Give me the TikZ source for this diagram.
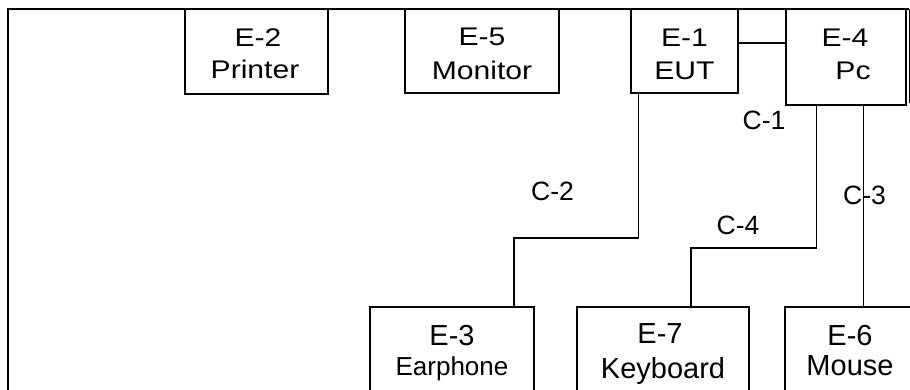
\documentclass[tikz,border=0pt]{standalone}
\usepackage{fontspec}
\setmainfont{Liberation Sans}
\newfontfamily\widefont{Liberation Sans}[FakeStretch=1.18]
\begin{document}
\begin{tikzpicture}[x=1pt,y=-1pt,
  box/.style={draw, line width=1.3pt, inner sep=0pt, rectangle},
  frame/.style={line width=1.5pt},
  wire/.style={line width=1.1pt},
  toptxt/.style={anchor=base, inner sep=0pt, font=\widefont\fontsize{25.5}{25.5}\selectfont},
  bottxt/.style={anchor=base, inner sep=0pt, font=\fontsize{29}{29}\selectfont},
  smalltxt/.style={anchor=base, inner sep=0pt, font=\fontsize{26}{26}\selectfont},
  lab/.style={inner sep=0pt, font=\fontsize{26.5}{26.5}\selectfont}]
\useasboundingbox (0,0) rectangle (910,390);
% outer frame
\coordinate (f1) at (8,400);
\coordinate (f2) at (8,9);
\coordinate (f3) at (909,9);
\coordinate (f4) at (909,103);
\draw[frame] (f1) -- (f2) -- (f3);
\draw[line width=1pt] (f3) -- (f4);
% boxes
\node[box, minimum width=143pt, minimum height=85pt] (e2) at (256.5,51.5) {};
\node[box, minimum width=154pt, minimum height=84pt] (e5) at (482,51) {};
\node[box, minimum width=107pt, minimum height=84pt] (e1) at (684.5,51) {};
\node[box, minimum width=120pt, minimum height=96pt] (e4) at (846,57) {};
\node[box, minimum width=164pt, minimum height=93pt] (e3) at (452,353.5) {};
\node[box, minimum width=172pt, minimum height=93pt] (e7) at (663,353.5) {};
\node[box, minimum width=150pt, minimum height=93pt] (e6) at (860,353.5) {};
% texts
\node[toptxt] (e2a) at (258,47) {E-2};
\node[toptxt] (e2b) at (255,79) {Printer};
\node[toptxt] (e5a) at (482,46) {E-5};
\node[toptxt] (e5b) at (482,80) {Monitor};
\node[toptxt] (e1a) at (684.5,47) {E-1};
\node[toptxt] (e1b) at (684.5,80) {EUT};
\node[toptxt] (e4a) at (845,47) {E-4};
\node[toptxt] (e4b) at (853,80) {Pc};
\node[bottxt] (e3a) at (452,345) {E-3};
\node[smalltxt] (e3b) at (452,375) {Earphone};
\node[bottxt] (e7a) at (660,343) {E-7};
\node[bottxt] (e7b) at (663,378) {Keyboard};
\node[bottxt] (e6a) at (850,345) {E-6};
\node[bottxt] (e6b) at (850,375) {Mouse};
% connectors
\draw[wire] ([yshift=8pt]e1.east) -- ([yshift=8pt]e1.east -| e4.west);
\coordinate (j2) at (514,238);
\draw[wire] ([xshift=8pt]e1.south west) |- (j2) -- (j2 |- e3.north);
\coordinate (j4) at (691,248);
\draw[wire] ([xshift=31pt]e4.south west) |- (j4) -- (j4 |- e7.north);
\coordinate (c3top) at ([xshift=78pt]e4.south west);
\draw[line width=0.9pt] (c3top) -- (c3top |- e6.north);
% labels
\node[lab] (c1) at (764,120) {C-1};
\node[lab] (c2) at (552.5,191.5) {C-2};
\node[lab] (c3) at (864.5,195) {C-3};
\node[lab] (c4) at (738,225) {C-4};
\end{tikzpicture}
\end{document}
